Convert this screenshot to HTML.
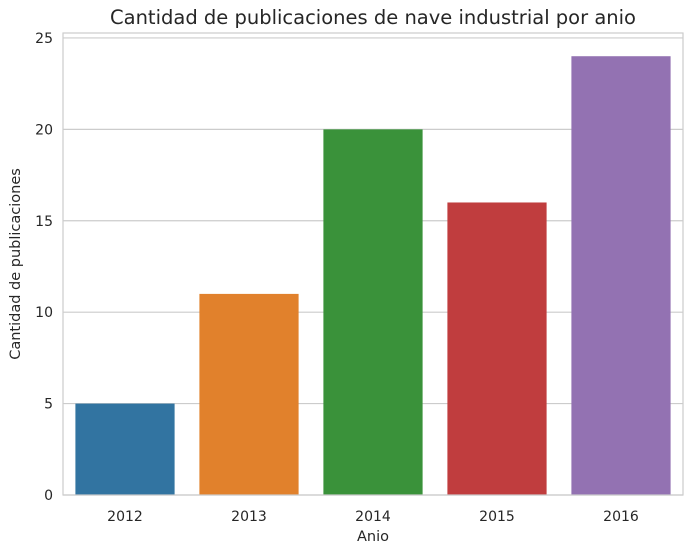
<!DOCTYPE html>
<html><head><meta charset="utf-8"><style>
body{margin:0;background:#fff;}
svg{display:block;font-family:"DejaVu Sans","Liberation Sans",sans-serif;}
</style></head><body>
<svg id="chart" width="693" height="554">
<rect width="693" height="554" fill="#fff"/>
<g id="grid"></g><g id="bars"></g><g id="ticks"></g>
<rect x="63" y="33" width="620" height="462" fill="none" stroke="#cccccc" stroke-width="1.2"/>
<text x="373" y="24" text-anchor="middle" font-size="19.5" fill="#262626">Cantidad de publicaciones de nave industrial por anio</text>
<text x="373" y="541" text-anchor="middle" font-size="14.5" fill="#262626">Anio</text>
<text transform="translate(20,264) rotate(-90)" text-anchor="middle" font-size="14.5" fill="#262626">Cantidad de publicaciones</text>
</svg>
<script>
const categories = ["2012","2013","2014","2015","2016"];
const values = [5, 11, 20, 16, 24];
const colors = ["#3274a1","#e1812c","#3a923a","#c03d3e","#9372b2"];
const yTicks = [0,5,10,15,20,25];
const L=63,R=683,T=33,B=495,yMax=25.27;
const NS="http://www.w3.org/2000/svg";
function y(v){return B-(v/yMax)*(B-T);}
const band=(R-L)/categories.length;
function x(i){return L+band*i;}
function mk(tag,attrs,parent){const e=document.createElementNS(NS,tag);for(const k in attrs)e.setAttribute(k,attrs[k]);document.getElementById(parent).appendChild(e);return e;}
yTicks.forEach(t=>{
  const g=mk("line",{x1:L,x2:R,y1:y(t),y2:y(t),stroke:"#cccccc","stroke-width":1.2},"grid");
  
  
  const tx=mk("text",{x:L-10,y:y(t)+5,"text-anchor":"end","font-size":14,fill:"#262626"},"ticks");
  tx.textContent=t;
  
  
});
categories.forEach((c,i)=>{
  const w=band*0.8;
  const r=mk("rect",{x:x(i)+band*0.1,y:y(values[i]),width:w,height:B-y(values[i]),fill:colors[i]},"bars");
  
  
  const tx=mk("text",{x:x(i)+band/2,y:B+26,"text-anchor":"middle","font-size":14,fill:"#262626"},"ticks");
  tx.textContent=c;
  
  
});
</script>
</body></html>
